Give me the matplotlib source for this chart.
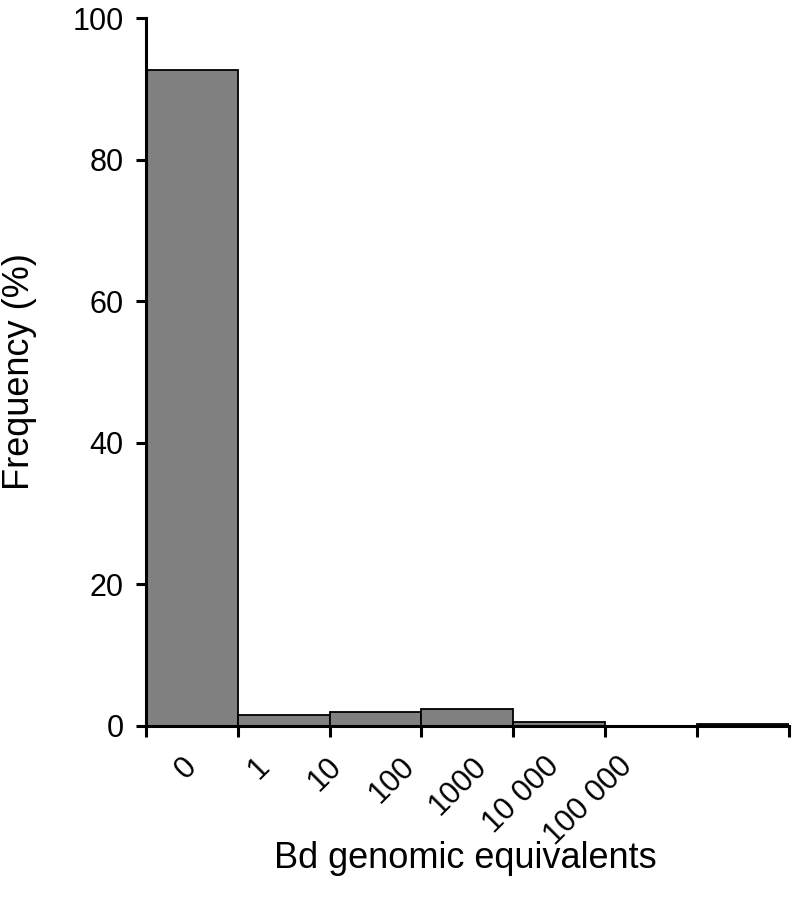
import numpy as np
import matplotlib.pyplot as plt

plt.rcParams['font.family'] = ['Liberation Sans', 'DejaVu Sans']

# data
categories = ['0', '1', '10', '100', '1000', '10 000', '100 000']
frequency = [92.7, 1.55, 2.0, 2.4, 0.6, 0.05, 0.35]


def main():
    fig = plt.figure(figsize=(7.92, 9.17), dpi=100)
    ax = fig.add_axes([0.1843, 0.2083, 0.8117, 0.7717])

    x = np.arange(len(categories))
    ax.bar(x, frequency, width=1.0, color='#808080', edgecolor='black',
           linewidth=1.3, zorder=2)

    ax.set_xlim(-0.5, len(categories) - 0.5)
    ax.set_ylim(0, 100)
    ax.set_yticks([0, 20, 40, 60, 80, 100])
    ax.tick_params(axis='y', labelsize=22, length=7, width=2.2, direction='out', pad=9)

    # tick marks on bar edges; the labels sit closer together than the bars
    ax.set_xticks(np.arange(len(categories) + 1) - 0.5)
    ax.set_xticklabels([])
    ax.tick_params(axis='x', length=8, width=2.2, direction='out')
    for i, lab in enumerate(categories):
        ax.text(i * 0.79 - 0.11, -3.6, lab, rotation=45, rotation_mode='anchor',
                ha='right', va='top', fontsize=22, clip_on=False)

    for s in ['top', 'right']:
        ax.spines[s].set_visible(False)
    for s in ['left', 'bottom']:
        ax.spines[s].set_linewidth(2.2)

    fig.text(0.025, 0.595, 'Frequency (%)', fontsize=26, rotation=90,
             ha='center', va='center')
    fig.text(0.588, 0.064, 'Bd genomic equivalents', fontsize=26,
             ha='center', va='center')

    fig.savefig('out.png', dpi=100)


if __name__ == "__main__":
    main()
